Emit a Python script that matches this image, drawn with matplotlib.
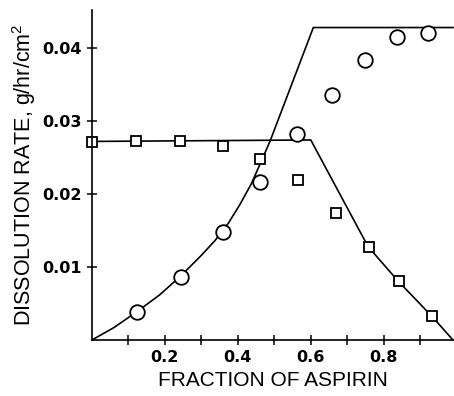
import matplotlib
matplotlib.use('Agg')
import matplotlib.pyplot as plt

# measured points
aspirin_x = [0.124, 0.244, 0.36, 0.461, 0.5625, 0.658, 0.75, 0.836, 0.921]
aspirin_y = [0.0039, 0.0086, 0.0148, 0.0216, 0.0282, 0.0336, 0.0384, 0.0415, 0.0421]
other_x = [0.0, 0.122, 0.241, 0.358, 0.46, 0.565, 0.668, 0.76, 0.841, 0.932]
other_y = [0.0271, 0.0272, 0.0272, 0.0266, 0.0248, 0.0219, 0.0174, 0.0127, 0.0081, 0.0033]

# theoretical curves
curve_a_x = [0.0, 0.06, 0.124, 0.186, 0.244, 0.30, 0.337, 0.374, 0.405, 0.437, 0.46, 0.488, 0.607, 0.99]
curve_a_y = [0.0, 0.0017, 0.0039, 0.0062, 0.0088, 0.0116, 0.0136, 0.0160, 0.0185, 0.0214, 0.0240,
             0.0272, 0.0428, 0.0428]
curve_b_x = [0.0, 0.6, 0.757, 0.839, 0.933, 0.99]
curve_b_y = [0.0272, 0.0274, 0.0128, 0.0081, 0.0032, 0.0]

xticks = [0.1, 0.2, 0.3, 0.4, 0.5, 0.6, 0.7, 0.8, 0.9]
xticklabels = ['', '0.2', '', '0.4', '', '0.6', '', '0.8', '']
yticks = [0.01, 0.02, 0.03, 0.04]
yticklabels = ['0.01', '0.02', '0.03', '0.04']

fig = plt.figure(figsize=(4.54, 3.96), dpi=100)
ax = fig.add_axes([0.2026, 0.1414, 0.7952, 0.8333])

ax.plot(curve_a_x, curve_a_y, color='black', lw=1.2, clip_on=False)
ax.plot(curve_b_x, curve_b_y, color='black', lw=1.2, clip_on=False)
ax.plot(aspirin_x, aspirin_y, 'o', ms=10.5, mfc='white', mec='black', mew=1.3, clip_on=False)
ax.plot(other_x, other_y, 's', ms=7.5, mfc='white', mec='black', mew=1.3, clip_on=False)

ax.set_xlim(0, 0.99)
ax.set_ylim(0, 0.0452)
ax.spines['top'].set_visible(False)
ax.spines['right'].set_visible(False)
ax.spines['left'].set_linewidth(1.2)
ax.spines['bottom'].set_linewidth(1.2)

ax.set_xticks(xticks)
ax.set_xticklabels(xticklabels)
ax.set_yticks(yticks)
ax.set_yticklabels(yticklabels)
ax.tick_params(direction='inout', length=7, width=1.1, pad=4)
for lab in ax.get_xticklabels() + ax.get_yticklabels():
    lab.set_fontfamily('DejaVu Sans')
    lab.set_fontweight('bold')
    lab.set_fontsize(11.5)

ax.set_xlabel('FRACTION OF ASPIRIN', fontfamily='Liberation Sans', fontsize=15, labelpad=4)
ax.set_ylabel('DISSOLUTION RATE, g/hr/cm$^\\mathregular{2}$', fontfamily='Liberation Sans',
              fontsize=15.5, labelpad=3)

fig.savefig('out.png', dpi=100)
